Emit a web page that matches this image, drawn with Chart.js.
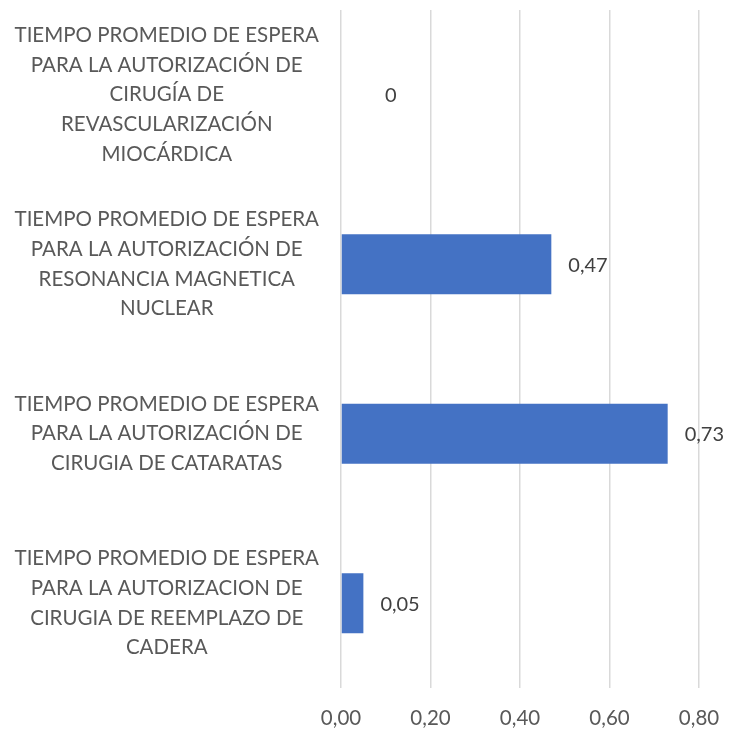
<!DOCTYPE html>
<html>
<head>
<meta charset="utf-8">
<script src="https://cdn.jsdelivr.net/npm/chart.js@4/dist/chart.umd.min.js"></script>
<style>
  html, body { margin: 0; padding: 0; background: #fff; }
  #wrap { width: 729px; height: 729px; }
</style>
</head>
<body>
<div id="wrap"><canvas id="barChart"></canvas></div>
<script>
var categories = [
    ["TIEMPO PROMEDIO DE ESPERA", "PARA LA AUTORIZACIÓN DE", "CIRUGÍA DE", "REVASCULARIZACIÓN", "MIOCÁRDICA"],
    ["TIEMPO PROMEDIO DE ESPERA", "PARA LA AUTORIZACIÓN DE", "RESONANCIA MAGNETICA", "NUCLEAR"],
    ["TIEMPO PROMEDIO DE ESPERA", "PARA LA AUTORIZACIÓN DE", "CIRUGIA DE CATARATAS"],
    ["TIEMPO PROMEDIO DE ESPERA", "PARA LA AUTORIZACION DE", "CIRUGIA DE REEMPLAZO DE", "CADERA"]
];
var values = [0, 0.47, 0.73, 0.05];
var xTicks = [0, 0.2, 0.4, 0.6, 0.8];

var fontFamily = "Lato, 'Open Sans', sans-serif";

var valueLabels = {
    id: "valueLabels",
    afterDatasetsDraw: function (chart) {
        var ctx = chart.ctx;
        var meta = chart.getDatasetMeta(0);
        ctx.save();
        ctx.font = "20px " + fontFamily;
        ctx.fillStyle = "#404040";
        ctx.textAlign = "left";
        ctx.textBaseline = "middle";
        meta.data.forEach(function (bar, i) {
            var v = chart.data.datasets[0].data[i];
            var txt = String(v).replace(".", ",");
            var off = v === 0 ? 44 : 17;
            ctx.fillText(txt, bar.x + off, bar.y + 1);
        });
        ctx.restore();
    }
};

var ctx = document.getElementById("barChart").getContext("2d");
var myChart = new Chart(ctx, {
    type: "bar",
    data: {
        labels: categories,
        datasets: [
            {
                data: values,
                backgroundColor: "#4472C4",
                barPercentage: 0.354,
                categoryPercentage: 1.0,
            },
        ],
    },
    options: {
        indexAxis: "y",
        responsive: true,
        maintainAspectRatio: false,
        animation: false,
        layout: { padding: { top: 10, right: 30, bottom: 0, left: 0 } },
        plugins: {
            legend: { display: false },
            tooltip: { enabled: false },
        },
        scales: {
            x: {
                min: 0,
                max: 0.8,
                afterBuildTicks: function (axis) {
                    axis.ticks = xTicks.map(function (v) { return { value: v }; });
                },
                afterFit: function (axis) {
                    axis.height = 41;
                    axis.paddingRight = 0;
                    axis.paddingLeft = 0;
                },
                ticks: {
                    color: "#595959",
                    font: { family: fontFamily, size: 20.5 },
                    padding: 18,
                    maxRotation: 0,
                    callback: function (v) { return v.toFixed(2).replace(".", ","); },
                },
                grid: { color: "#d9d9d9", lineWidth: 1.5, drawTicks: false },
                border: { display: false },
            },
            y: {
                afterFit: function (axis) {
                    axis.width = 341;
                    axis.paddingTop = 0;
                    axis.paddingBottom = 0;
                },
                ticks: {
                    color: "#595959",
                    crossAlign: "center",
                    padding: 22,
                    font: { family: fontFamily, size: 20.5, lineHeight: 1.45 },
                },
                grid: { display: false, drawTicks: false },
                border: { display: false },
            },
        },
    },
    plugins: [valueLabels],
});
</script>
</body>
</html>
